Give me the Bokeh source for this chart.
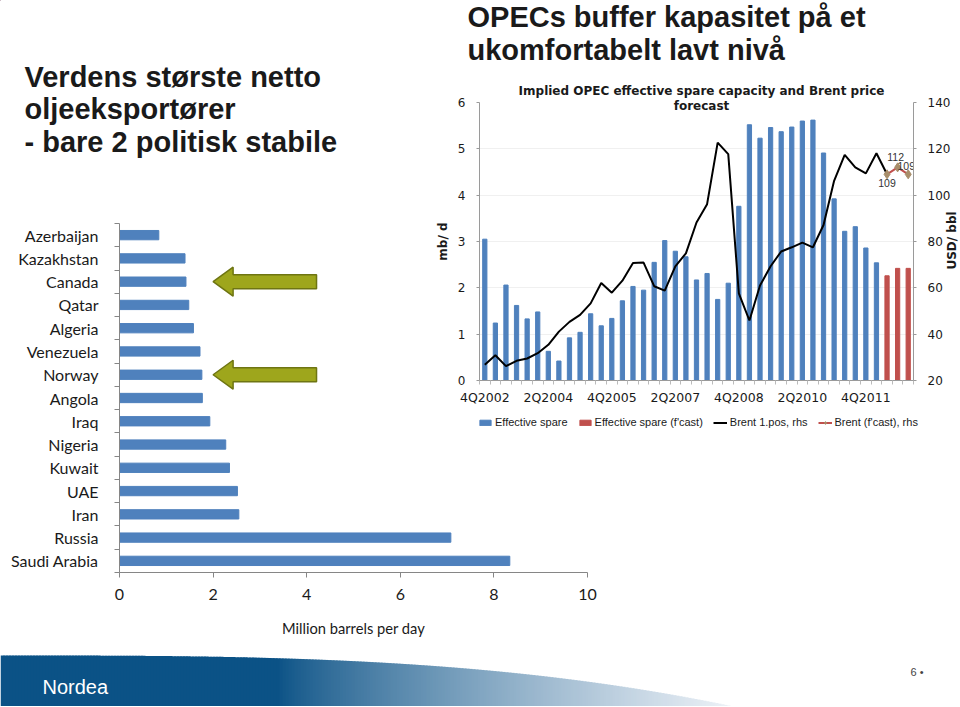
import numpy as np
from bokeh.plotting import figure
from bokeh.models import (Range1d, LinearAxis, FixedTicker, Label,
                          Legend, LegendItem, GridBox, Column)
from bokeh.core.properties import value
from bokeh.embed import file_html
from bokeh.resources import INLINE

# ---------------- data: left chart (net oil exporters, mb/d) ----------------
countries = ["Azerbaijan", "Kazakhstan", "Canada", "Qatar", "Algeria", "Venezuela",
             "Norway", "Angola", "Iraq", "Nigeria", "Kuwait", "UAE", "Iran",
             "Russia", "Saudi Arabia"]
exports = [0.84, 1.40, 1.42, 1.48, 1.58, 1.72, 1.76, 1.77, 1.93, 2.27, 2.35,
           2.52, 2.55, 7.08, 8.34]
highlighted = ["Canada", "Norway"]
left_ticks = [0, 2, 4, 6, 8, 10]

# ---------------- data: right chart (OPEC spare capacity & Brent) ----------------
quarters = [f"{(3 + i) % 4 + 1}Q{2002 + (3 + i) // 4}" for i in range(41)]  # 4Q2002 .. 4Q2012
spare = [3.05, 1.24, 2.06, 1.62, 1.33, 1.48, 0.63, 0.42, 0.92, 1.04, 1.44, 1.18,
         1.34, 1.72, 2.03, 1.95, 2.55, 3.02, 2.79, 2.67, 2.17, 2.31, 1.75, 2.10,
         3.76, 5.52, 5.23, 5.46, 5.37, 5.47, 5.60, 5.62, 4.91, 3.92, 3.22, 3.32,
         2.86, 2.54]
spare_fc = [2.26, 2.42, 2.42]
brent = [26.8, 30.9, 26.2, 28.5, 29.5, 31.8, 35.4, 41.1, 45.3, 48.3, 53.3, 62.1,
         57.9, 63.1, 70.7, 70.9, 60.7, 58.8, 69.3, 74.9, 88.2, 96.1, 122.7, 117.7,
         57.6, 45.9, 61.0, 69.3, 75.7, 77.5, 79.5, 77.5, 87.1, 106.2, 117.4, 112.0,
         109.4, 118.1, 109.0]
brent_fc = [109, 112, 109]
series_names = ["Effective spare", "Effective spare (f'cast)", "Brent 1.pos, rhs",
                "Brent (f'cast), rhs"]
x_label_ticks = [0, 6, 12, 18, 24, 30, 36]
left_axis_ticks = [0, 1, 2, 3, 4, 5, 6]
right_axis_ticks = [20, 40, 60, 80, 100, 120, 140]

BLUE = "#4F81BD"
RED = "#C0504D"
TAN = "#A88E6A"
TXT = "#1a1a1a"
AX = "#9A9A9A"
W, H = 959, 706

# ======================= BACKGROUND (slide texts, legend, footer) =======================
pt = figure(width=W, height=H, x_range=Range1d(0, W), y_range=Range1d(H, 0),
            output_backend="svg", toolbar_location=None, x_axis_type=None,
            y_axis_type=None, min_border=0)
pt.outline_line_color = None
pt.grid.grid_line_color = None
pt.background_fill_color = "white"
pt.border_fill_color = "white"


def slide_text(txt, x, y, size, bold=True, font="Liberation Sans", align="left",
               angle=0.0, color=TXT):
    pt.add_layout(Label(x=x, y=y, text=txt, text_font=font,
                        text_font_style="bold" if bold else "normal",
                        text_font_size=size, text_color=color, text_align=align,
                        text_baseline="middle", angle=angle))


for line, cy_ in zip(["Verdens største netto", "oljeeksportører",
                      "- bare 2 politisk stabile"], [76.7, 108.5, 141.5]):
    slide_text(line, 24, cy_, "29px")
for line, cy_ in zip(["OPECs buffer kapasitet på et", "ukomfortabelt lavt nivå"], [16, 49.3]):
    slide_text(line, 467, cy_, "29px")
for line, cy_ in zip(["Implied OPEC effective spare capacity and Brent price", "forecast"], [90, 105]):
    slide_text(line, 701, cy_, "12px", font="DejaVu Sans", align="center")
slide_text("USD/ bbl", 951, 240, "12px", font="DejaVu Sans", align="center",
           angle=np.pi / 2)

# footer swoosh
sx_ = np.arange(0, 727, 3.0)
t = sx_ / 726.0
top = 655 + 50 * t ** 3
dark = np.array([11, 82, 134])
light = np.array([236, 241, 247])
wgt = np.clip((t - 0.38) / 0.62, 0, 1)[:, None] ** 0.8
cols = dark * (1 - wgt) + light * wgt
hexcols = ["#%02x%02x%02x" % tuple(int(v) for v in c) for c in cols]
pt.quad(left=sx_, right=sx_ + 4.0, top=top, bottom=np.full_like(sx_, H + 2),
        color=hexcols, line_color=None)
slide_text("Nordea", 42, 686, "20px", bold=False, color="white")
slide_text("6 •", 910, 671, "11px", bold=False, color="#444444")

# legend of the right chart: style swatches (kept off-canvas) + labels under its x axis
off = [-100, -90]
g1 = pt.vbar(x=off[:1], top=off[:1], width=1, color=BLUE)
g2 = pt.vbar(x=off[:1], top=off[:1], width=1, color=RED)
g3 = pt.line(x=off, y=off, color="black", line_width=2)
g4 = pt.line(x=off, y=off, color=RED, line_width=2)
g5 = pt.scatter(x=off[:1], y=off[:1], marker="diamond", size=8, color=TAN)
legend = Legend(items=[LegendItem(label=series_names[0], renderers=[g1]),
                       LegendItem(label=series_names[1], renderers=[g2]),
                       LegendItem(label=series_names[2], renderers=[g3]),
                       LegendItem(label=series_names[3], renderers=[g4, g5])],
                orientation="horizontal", location=(478, H - 428),
                glyph_width=14, glyph_height=7, label_height=12,
                label_text_font="Liberation Sans", label_text_font_size="11px",
                label_text_color=TXT, label_standoff=3, spacing=10, padding=0,
                margin=0, border_line_color=None, background_fill_alpha=0)
pt.add_layout(legend)

# ======================= LEFT FIGURE =======================
n_c = len(countries)
cy = [i + 0.5 for i in range(n_c)]          # category centres (top -> bottom)
pl = figure(width=W, height=H, x_range=Range1d(0, 10),
            y_range=Range1d(start=n_c, end=0),
            output_backend="svg", toolbar_location=None,
            min_border_left=119, min_border_right=372, min_border_top=223,
            min_border_bottom=134)
pl.outline_line_color = None
pl.grid.grid_line_color = None
pl.background_fill_alpha = 0
pl.border_fill_alpha = 0

pl.hbar(y=cy, right=exports, height=0.4, color=BLUE)

# highlight arrows (Canada, Norway)
tip, tail = 2.0, 4.21
hl = 20 / 46.8
hh, sh = 14.5 / 23.27, 7.0 / 23.27
axs, ays = [], []
for c in highlighted:
    yc = cy[countries.index(c)]
    axs.append([tip, tip + hl, tip + hl, tail, tail, tip + hl, tip + hl])
    ays.append([yc, yc - hh, yc - sh, yc - sh, yc + sh, yc + sh, yc + hh])
pl.patches(axs, ays, fill_color="#9EA61C", line_color="#6E7512", line_width=1.5)

xa = pl.xaxis[0]
xa.ticker = FixedTicker(ticks=left_ticks)
xa.axis_line_color = "#868686"
xa.major_tick_line_color = "#868686"
xa.major_tick_out = 5
xa.major_tick_in = 0
xa.minor_tick_line_color = None
xa.major_label_text_font = "Lato"
xa.major_label_text_font_size = "16px"
xa.major_label_text_color = TXT
xa.major_label_standoff = 11
xa.axis_label = "Million barrels per day"
xa.axis_label_text_font = "Lato"
xa.axis_label_text_font_size = "14.7px"
xa.axis_label_text_font_style = "normal"
xa.axis_label_text_color = TXT
xa.axis_label_standoff = 16

ya = pl.yaxis[0]
ya.ticker = FixedTicker(ticks=cy, minor_ticks=list(range(n_c + 1)))
ya.major_label_overrides = {v: c for v, c in zip(cy, countries)}
ya.axis_line_color = "#868686"
ya.major_tick_line_color = None
ya.major_tick_out = 0
ya.minor_tick_line_color = "#868686"
ya.minor_tick_out = 5
ya.minor_tick_in = 0
ya.major_label_text_font = "Lato"
ya.major_label_text_font_size = "16px"
ya.major_label_text_color = TXT
ya.major_label_standoff = 16

# ======================= RIGHT FIGURE =======================
pr = figure(width=W, height=H, x_range=Range1d(-0.5, len(quarters) - 0.5),
            y_range=Range1d(0, 6), output_backend="svg", toolbar_location=None,
            min_border_left=479, min_border_right=46, min_border_top=102,
            min_border_bottom=326)
pr.extra_y_ranges = {"brent": Range1d(20, 140)}
pr.outline_line_color = None
pr.background_fill_alpha = 0
pr.border_fill_alpha = 0
pr.xgrid.grid_line_color = None
pr.ygrid.grid_line_color = "#F0F0F0"
pr.ygrid.ticker = FixedTicker(ticks=left_axis_ticks)

n_act = len(spare)
pr.vbar(x=list(range(n_act)), top=spare, width=0.4, color=BLUE)
pr.vbar(x=list(range(n_act, n_act + len(spare_fc))), top=spare_fc, width=0.4, color=RED)
pr.line(list(range(len(brent))), brent, y_range_name="brent", color="black", line_width=2)
fx = list(range(len(brent) - 1, len(brent) - 1 + len(brent_fc)))
pr.line(fx, brent_fc, y_range_name="brent", color=RED, line_width=2)
pr.scatter(fx, brent_fc, y_range_name="brent", marker="diamond", size=9, color=TAN)

lab_font = dict(text_font=value("Liberation Sans"), text_font_size=value("10.5px"),
                text_color="#333333", text_align="center", text_baseline="middle")
pr.text(x=fx[:1], y=brent_fc[:1], text=[str(v) for v in brent_fc[:1]],
        y_range_name="brent", y_offset=9, **lab_font)
pr.text(x=fx[1:2], y=brent_fc[1:2], text=[str(v) for v in brent_fc[1:2]],
        y_range_name="brent", y_offset=-10, x_offset=-2, **lab_font)
pr.text(x=fx[2:], y=brent_fc[2:], text=[str(v) for v in brent_fc[2:]],
        y_range_name="brent", y_offset=-8, x_offset=-2, **lab_font)

bx = pr.xaxis[0]
bx.ticker = FixedTicker(ticks=x_label_ticks,
                        minor_ticks=[i - 0.5 for i in range(len(quarters) + 1)])
bx.major_label_overrides = {i: quarters[i] for i in x_label_ticks}
bx.axis_line_color = AX
bx.major_tick_line_color = None
bx.major_tick_out = 0
bx.minor_tick_line_color = "#BBBBBB"
bx.minor_tick_out = 4
bx.minor_tick_in = 0
bx.major_label_standoff = 5
bx.major_label_text_font = "DejaVu Sans"
bx.major_label_text_font_size = "12.5px"
bx.major_label_text_color = TXT

by = pr.yaxis[0]
by.ticker = FixedTicker(ticks=left_axis_ticks)
by.axis_line_color = AX
by.major_tick_line_color = AX
by.major_tick_out = 3
by.major_tick_in = 0
by.minor_tick_line_color = None
by.major_label_standoff = 11
by.major_label_text_font = "DejaVu Sans"
by.major_label_text_font_size = "12px"
by.major_label_text_color = TXT
by.axis_label = "mb/ d"
by.axis_label_text_font = "DejaVu Sans"
by.axis_label_text_font_style = "bold"
by.axis_label_text_font_size = "12px"
by.axis_label_text_color = TXT
by.axis_label_standoff = 5

ry = LinearAxis(y_range_name="brent", ticker=FixedTicker(ticks=right_axis_ticks))
ry.axis_line_color = AX
ry.major_tick_line_color = AX
ry.major_tick_out = 3
ry.major_tick_in = 0
ry.minor_tick_line_color = None
ry.major_label_standoff = 11
ry.major_label_text_font = "DejaVu Sans"
ry.major_label_text_font_size = "12px"
ry.major_label_text_color = TXT
pr.add_layout(ry, "right")

grid = GridBox(children=[(Column(children=[pt]), 0, 0),
                         (Column(children=[pl]), 0, 0),
                         (Column(children=[pr]), 0, 0)])

open("out.html", "w").write(file_html(grid, INLINE))
